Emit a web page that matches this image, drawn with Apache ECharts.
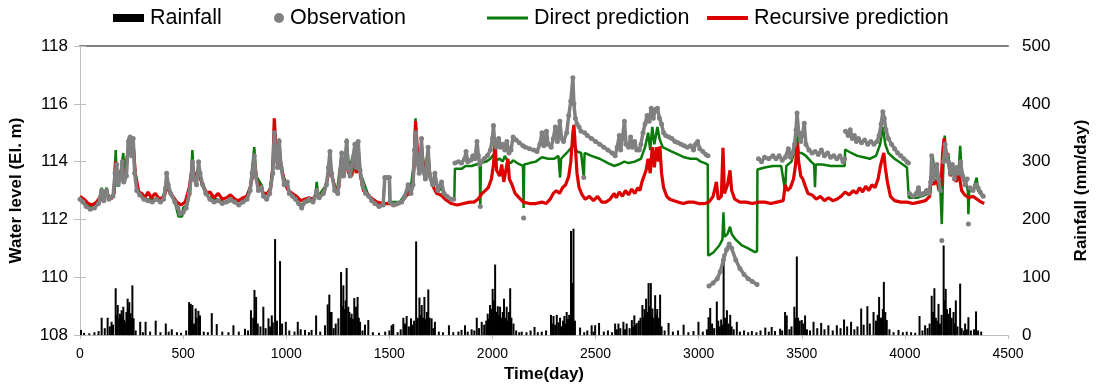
<!DOCTYPE html>
<html>
<head>
<meta charset="utf-8">
<script src="https://cdn.jsdelivr.net/npm/echarts/dist/echarts.min.js"></script>
<style>
html,body{margin:0;padding:0;background:#fff;}
#chart{width:1098px;height:388px;}
</style>
</head>
<body>
<div id="chart"></div>
<script>
// ---------------- DATA ----------------
const xTicks = [0, 500, 1000, 1500, 2000, 2500, 3000, 3500, 4000, 4500];
const levelTicks = [108, 110, 112, 114, 116, 118];
const rainTicks = [0, 100, 200, 300, 400, 500];

// Rainfall (mm/day): [day, mm]
const rainfall = [
[5,9],[20,4],[45,3],[70,5],[90,7],[105,30],[120,12],[134,30],[145,15],[153,23],[160,18],[173,81],[178,35],[183,52],[190,28],[194,37],[202,43],[206,30],[210,49],[214,26],[218,23],[225,40],[231,63],[235,45],[239,57],[245,38],[250,30],[254,86],[260,29],[270,8],[292,23],[305,5],[318,23],[340,6],[367,25],[390,5],[416,20],[430,6],[445,10],[470,5],[490,4],[515,8],[529,57],[533,30],[537,54],[541,25],[545,52],[553,20],[561,46],[566,30],[574,42],[578,25],[582,34],[600,6],[620,5],[639,38],[663,19],[690,6],[720,5],[744,17],[770,6],[800,11],[815,8],[829,43],[840,30],[846,78],[850,40],[854,66],[862,20],[875,15],[889,49],[900,12],[914,29],[922,15],[930,34],[935,22],[946,166],[955,25],[970,128],[980,20],[998,23],[1015,8],[1040,6],[1056,23],[1070,10],[1091,9],[1110,5],[1123,9],[1145,34],[1165,6],[1188,17],[1201,53],[1209,70],[1214,40],[1220,40],[1230,12],[1240,20],[1253,29],[1266,109],[1272,50],[1277,86],[1283,45],[1288,60],[1293,116],[1301,49],[1306,40],[1311,30],[1317,37],[1323,28],[1330,64],[1338,49],[1346,66],[1352,30],[1358,23],[1370,8],[1382,18],[1398,26],[1420,5],[1450,4],[1480,6],[1500,8],[1511,17],[1519,19],[1540,5],[1555,10],[1568,30],[1576,20],[1584,33],[1595,15],[1605,29],[1612,18],[1620,25],[1630,162],[1638,30],[1646,65],[1651,35],[1657,52],[1663,30],[1670,66],[1676,28],[1682,40],[1689,79],[1695,30],[1705,29],[1713,12],[1721,23],[1740,6],[1760,5],[1789,17],[1810,5],[1835,6],[1850,9],[1867,17],[1880,6],[1899,10],[1912,8],[1924,30],[1935,12],[1948,23],[1960,18],[1970,25],[1977,37],[1983,28],[1988,52],[1995,45],[2001,80],[2007,60],[2013,122],[2020,40],[2026,50],[2032,35],[2037,49],[2043,30],[2050,40],[2056,63],[2062,30],[2069,49],[2075,25],[2080,40],[2086,81],[2092,30],[2102,20],[2115,8],[2130,5],[2142,6],[2165,5],[2185,8],[2204,14],[2220,5],[2239,6],[2260,8],[2284,35],[2290,20],[2296,33],[2304,18],[2312,35],[2320,22],[2328,30],[2335,15],[2342,25],[2349,33],[2355,20],[2360,40],[2366,28],[2372,35],[2381,180],[2387,90],[2393,184],[2400,25],[2425,13],[2445,5],[2460,8],[2481,17],[2490,6],[2498,17],[2517,21],[2540,6],[2560,8],[2580,5],[2595,20],[2603,10],[2611,20],[2620,12],[2635,23],[2643,10],[2651,20],[2665,12],[2676,26],[2682,15],[2688,34],[2695,18],[2700,21],[2710,25],[2718,30],[2727,52],[2732,30],[2737,45],[2741,35],[2745,63],[2750,40],[2757,90],[2762,50],[2768,90],[2772,35],[2776,46],[2782,30],[2789,69],[2794,35],[2799,45],[2806,30],[2813,70],[2820,15],[2835,8],[2854,21],[2875,6],[2900,8],[2927,18],[2950,5],[2975,7],[2999,23],[3020,6],[3040,10],[3048,31],[3056,47],[3065,20],[3075,12],[3088,58],[3095,25],[3102,15],[3109,27],[3115,18],[3121,140],[3128,30],[3137,43],[3145,20],[3153,35],[3160,15],[3170,10],[3185,23],[3200,6],[3220,8],[3240,5],[3258,7],[3280,5],[3300,8],[3323,13],[3340,6],[3354,14],[3370,7],[3395,11],[3405,8],[3419,40],[3427,34],[3440,10],[3450,15],[3464,49],[3470,30],[3476,136],[3482,30],[3490,25],[3500,26],[3508,20],[3516,34],[3525,10],[3540,8],[3557,23],[3575,12],[3594,21],[3610,10],[3629,17],[3650,8],[3670,17],[3688,12],[3705,27],[3720,15],[3739,23],[3755,10],[3770,15],[3788,46],[3800,18],[3818,50],[3830,20],[3848,40],[3860,25],[3868,35],[3875,66],[3882,30],[3888,30],[3893,45],[3898,92],[3905,40],[3912,26],[3925,10],[3945,5],[3969,9],[3990,5],[4009,6],[4030,5],[4050,4],[4071,33],[4085,8],[4098,17],[4110,12],[4120,20],[4130,68],[4137,40],[4143,81],[4150,30],[4157,25],[4163,54],[4170,20],[4178,35],[4188,155],[4193,60],[4198,80],[4204,45],[4211,37],[4219,47],[4227,30],[4236,40],[4242,20],[4247,60],[4255,15],[4268,89],[4275,12],[4285,8],[4292,20],[4300,10],[4308,31],[4320,8],[4335,10],[4345,41],[4355,8],[4370,6]
];

// Observed water level (El. m): [day, m]  ('-' = gap)
const observation = [
[0,112.7],[15,112.6],[30,112.45],[50,112.35],[70,112.4],[90,112.55],[105,113.0],[115,112.65],[129,113.0],[140,112.7],[160,112.8],[170,113.6],[178,113.9],[185,113.2],[195,113.4],[205,114.0],[212,113.3],[225,113.5],[235,114.7],[243,114.85],[250,114.2],[258,114.8],[265,113.6],[275,113.0],[290,112.85],[310,112.7],[330,112.65],[350,112.6],[370,112.7],[390,112.6],[405,112.7],[415,113.1],[420,113.6],[428,113.2],[440,112.9],[460,112.6],[475,112.4],[485,112.2],[500,112.25],[515,112.4],[530,112.9],[540,113.5],[545,114.0],[552,113.4],[565,113.2],[575,114.0],[582,113.6],[595,113.2],[610,112.9],[630,112.7],[650,112.6],[670,112.65],[690,112.55],[710,112.6],[730,112.7],[750,112.6],[770,112.5],[790,112.6],[810,112.7],[825,113.0],[835,113.6],[845,114.2],[852,113.5],[865,113.0],[880,113.1],[890,112.8],[905,112.7],[920,112.9],[935,113.6],[942,115.0],[950,114.3],[958,113.8],[966,114.7],[975,113.8],[990,113.2],[1005,113.3],[1015,112.9],[1030,112.8],[1045,112.7],[1060,112.55],[1075,112.4],[1090,112.6],[1110,112.7],[1130,112.6],[1148,113.0],[1160,112.75],[1180,112.9],[1195,113.2],[1205,113.8],[1212,114.35],[1220,113.6],[1235,113.0],[1250,112.9],[1262,113.6],[1269,114.3],[1278,113.5],[1287,114.0],[1293,114.7],[1300,113.8],[1310,113.5],[1320,113.9],[1333,114.6],[1340,113.8],[1349,114.7],[1358,113.7],[1370,113.2],[1385,112.9],[1400,112.8],[1415,112.65],[1430,112.55],[1450,112.45],[1470,112.5],[1478,113.45],[1490,113.45],[1500,113.45],[1503,112.6],[1520,112.5],[1540,112.55],[1560,112.6],[1575,112.8],[1591,113.2],[1605,112.9],[1615,113.2],[1622,114.4],[1628,115.0],[1635,114.0],[1645,113.6],[1656,114.8],[1663,113.7],[1675,113.4],[1688,114.5],[1695,113.5],[1710,113.2],[1721,113.6],[1735,113.0],[1753,113.3],[1765,112.9],[1780,112.8],[1800,112.7],[1812,112.7],
[1815,'-'],
[1818,113.95],[1835,114.0],[1850,113.95],[1865,114.1],[1872,114.35],[1880,114.0],[1895,114.05],[1905,114.2],[1915,114.1],[1925,114.7],[1932,114.2],[1938,113.9],
[1940,'-'],[1941,112.45],[1942,'-'],
[1945,114.0],[1960,114.1],[1975,114.2],[1990,114.4],[2000,114.8],[2005,115.25],[2010,114.7],[2020,114.5],[2030,114.8],[2040,114.5],[2050,114.6],[2060,114.4],[2070,114.7],[2080,114.3],[2090,114.4],[2100,114.85],[2115,114.75],[2130,114.65],[2148,114.55],
[2150,'-'],[2151,112.05],[2152,'-'],
[2160,114.5],[2180,114.45],[2200,114.4],[2216,114.35],[2230,114.6],[2240,115.0],[2250,114.55],[2262,115.05],[2270,114.6],[2285,114.5],[2295,114.8],[2305,115.2],[2315,114.7],[2327,115.4],[2335,114.8],[2345,114.7],[2360,115.0],[2370,115.6],[2380,116.1],[2390,116.9],[2395,116.0],[2402,115.5],[2410,115.3],[2420,115.2],[2430,115.05],
[2441,'-'],[2443,113.45],[2445,'-'],
[2447,115.0],[2460,114.9],[2480,114.8],[2500,114.7],[2520,114.6],[2540,114.5],[2560,114.4],[2580,114.3],[2595,114.2],[2605,114.5],[2615,114.9],[2622,114.4],[2632,114.9],[2640,115.4],[2648,114.6],[2660,114.5],[2670,114.85],[2680,114.5],[2690,114.7],[2700,114.4],[2712,114.4],[2720,114.6],[2730,115.0],[2740,115.3],[2750,115.6],[2760,115.4],[2770,115.85],[2780,115.5],[2790,115.8],[2800,115.85],[2810,115.5],[2820,115.3],[2830,115.0],[2840,114.9],[2855,114.85],[2870,114.8],[2885,114.7],[2900,114.65],[2915,114.6],[2930,114.55],[2945,114.5],[2960,114.55],[2975,114.4],[2985,114.6],[2995,114.7],[3005,114.45],[3020,114.35],[3035,114.25],[3045,114.2],
[3046,'-'],
[3050,109.7],[3070,109.8],[3090,109.95],[3105,110.2],[3120,110.6],[3135,110.95],[3148,111.15],[3160,111.0],[3180,110.6],[3200,110.3],[3220,110.1],[3240,109.95],[3260,109.85],[3283,109.75],
[3285,'-'],
[3290,114.1],[3305,114.0],[3320,114.15],[3340,114.1],[3360,114.2],[3375,114.1],[3390,114.2],[3405,114.05],[3420,114.15],[3435,114.45],[3445,114.15],[3455,114.3],[3465,114.6],[3472,115.1],[3477,115.68],[3485,115.0],[3495,114.7],[3505,115.0],[3512,115.33],[3520,114.6],[3535,114.4],[3550,114.3],[3565,114.35],[3580,114.25],[3595,114.4],[3610,114.2],[3625,114.3],[3640,114.15],[3655,114.2],[3670,114.1],[3685,114.2],[3700,114.0],[3708,114.1],
[3709,'-'],
[3712,115.05],[3725,114.9],[3735,115.1],[3745,114.8],[3755,114.9],[3765,114.7],[3775,114.8],[3790,114.65],[3805,114.75],[3820,114.6],[3835,114.7],[3850,114.6],[3865,114.7],[3875,114.9],[3885,115.3],[3893,115.73],[3900,115.5],[3908,115.1],[3920,114.8],[3935,114.6],[3950,114.45],[3965,114.3],[3980,114.2],[3995,114.1],[4010,114.0],[4017,113.95],
[4018,'-'],
[4022,112.9],[4040,112.8],[4055,112.9],[4066,113.1],[4075,112.85],[4090,112.9],[4105,113.0],[4115,112.9],[4125,113.3],[4130,114.2],[4137,113.4],[4145,113.6],[4155,113.9],[4163,113.4],[4172,113.0],
[4176,'-'],[4179,111.27],[4182,'-'],
[4187,114.0],[4195,114.6],[4203,114.2],[4211,114.0],[4220,113.6],[4230,113.9],[4240,113.4],[4250,113.8],[4260,113.6],[4270,114.0],[4280,113.5],[4292,113.2],[4302,113.4],
[4305,'-'],[4308,111.84],[4311,'-'],
[4315,113.1],[4330,113.0],[4345,113.2],[4355,113.1],[4365,112.95],[4380,112.8]
];

// Direct prediction (El. m): [day, m]
const directPrediction = [
[0,112.7],[30,112.5],[60,112.4],[90,112.6],[105,113.1],[115,112.7],[129,113.1],[140,112.7],[165,112.9],[173,114.4],[180,113.3],[195,113.5],[210,114.3],[218,113.3],[235,114.8],[245,114.85],[252,114.2],[258,114.85],[268,113.5],[285,112.9],[320,112.7],[360,112.7],[400,112.7],[420,113.3],[430,113.0],[460,112.6],[478,112.1],[495,112.1],[500,112.4],[520,112.5],[535,113.0],[545,114.4],[552,113.4],[575,113.8],[590,113.2],[620,112.8],[660,112.7],[700,112.6],[750,112.65],[800,112.7],[825,113.1],[845,114.5],[855,113.5],[880,113.2],[890,112.8],[920,113.0],[935,113.8],[942,115.3],[950,114.2],[966,114.8],[975,113.8],[1000,113.2],[1030,112.8],[1070,112.5],[1100,112.6],[1140,112.7],[1148,113.3],[1155,112.8],[1195,113.2],[1212,114.0],[1222,113.5],[1245,112.9],[1269,114.3],[1280,113.5],[1293,114.8],[1305,113.7],[1333,114.5],[1342,113.8],[1349,114.6],[1360,113.6],[1385,113.1],[1395,112.9],[1420,112.65],[1470,112.5],[1476,112.5],[1478,113.45],[1502,113.45],[1504,112.6],[1550,112.6],[1590,113.0],[1600,112.9],[1620,114.0],[1627,115.5],[1635,114.0],[1650,113.7],[1656,114.7],[1670,113.6],[1688,114.4],[1700,113.4],[1725,113.3],[1745,113.0],[1753,113.35],[1760,112.9],[1790,112.75],[1815,112.7],
[1818,113.75],[1850,113.75],[1870,113.85],[1900,113.85],[1920,113.9],[1938,113.95],[1941,112.45],[1944,113.95],[1970,114.0],[1990,114.1],[2005,114.25],[2020,114.05],[2035,114.1],[2050,114.0],[2060,114.2],[2075,114.0],[2090,113.95],[2100,114.05],[2120,113.95],[2148,113.85],[2151,112.4],[2154,113.9],[2180,113.95],[2210,114.0],[2240,114.15],[2270,114.1],[2300,114.1],[2320,114.2],[2328,113.45],[2333,114.1],[2360,114.3],[2385,114.5],[2395,114.6],[2410,114.35],[2430,114.3],[2443,113.45],[2447,114.3],[2480,114.2],[2520,114.1],[2560,113.95],[2590,113.85],[2610,113.9],[2640,114.0],[2660,113.95],[2690,114.0],[2720,114.1],[2740,114.5],[2755,115.0],[2765,114.4],[2775,115.2],[2785,114.6],[2800,115.2],[2810,114.8],[2825,114.5],[2840,114.45],[2870,114.35],[2900,114.25],[2930,114.15],[2960,114.1],[2990,114.1],[3010,114.0],[3030,113.95],[3044,113.9],
[3046,110.75],[3070,110.85],[3100,111.1],[3115,111.3],[3120,112.25],[3125,111.4],[3140,111.5],[3152,111.75],[3160,111.5],[3180,111.3],[3210,111.1],[3240,111.0],[3273,110.87],[3283,110.9],
[3285,113.73],[3320,113.8],[3360,113.85],[3400,113.85],[3419,113.0],[3425,113.85],[3450,114.0],[3470,114.5],[3477,115.05],[3485,114.3],[3500,114.3],[3520,114.2],[3545,114.0],[3560,113.9],[3564,113.12],[3568,113.9],[3600,113.9],[3640,113.85],[3680,113.85],[3708,113.85],
[3710,114.42],[3740,114.3],[3770,114.2],[3800,114.15],[3830,114.1],[3860,114.2],[3880,114.6],[3893,115.2],[3905,114.6],[3920,114.3],[3950,114.1],[3980,113.95],[4010,113.8],[4017,113.75],
[4019,112.75],[4060,112.75],[4100,112.85],[4125,113.1],[4135,114.2],[4145,113.5],[4160,113.5],[4172,113.0],[4179,111.84],[4185,113.5],[4193,114.9],[4200,114.3],[4215,113.8],[4240,113.5],[4260,113.6],[4268,114.55],[4275,113.7],[4295,113.3],[4305,113.0],[4308,112.18],[4312,113.0],[4330,113.0],[4348,113.45],[4355,113.0],[4380,112.75]
];

// Recursive prediction (El. m): [day, m]
const recursivePrediction = [
[0,112.8],[20,112.7],[40,112.55],[60,112.5],[80,112.6],[100,112.8],[110,112.65],[130,112.9],[150,112.7],[165,112.9],[172,114.0],[180,113.4],[195,113.6],[205,113.8],[215,113.3],[230,114.2],[240,114.5],[250,114.3],[258,114.6],[268,113.6],[285,112.95],[300,112.9],[315,112.75],[330,112.95],[345,112.75],[365,112.9],[385,112.7],[410,112.8],[420,113.2],[432,113.0],[450,112.8],[470,112.6],[490,112.5],[510,112.6],[530,113.1],[545,113.9],[555,113.4],[568,113.6],[580,113.5],[595,113.2],[615,112.9],[630,112.95],[650,112.75],[670,112.9],[690,112.7],[710,112.75],[730,112.85],[750,112.7],[770,112.65],[790,112.75],[810,112.8],[825,113.1],[840,113.6],[848,113.9],[858,113.3],[875,113.1],[890,112.9],[910,112.9],[925,113.1],[935,113.8],[942,115.5],[950,114.5],[958,113.9],[966,114.3],[975,113.9],[990,113.3],[1010,113.0],[1030,112.9],[1050,112.8],[1070,112.65],[1090,112.7],[1110,112.75],[1130,112.7],[1148,112.9],[1165,112.8],[1185,112.95],[1200,113.4],[1212,113.9],[1222,113.5],[1240,113.0],[1255,113.1],[1265,113.9],[1272,114.0],[1282,113.6],[1293,114.3],[1302,113.6],[1317,113.5],[1330,114.0],[1340,113.6],[1349,114.2],[1360,113.5],[1375,113.0],[1390,112.9],[1410,112.75],[1440,112.6],[1470,112.55],[1500,112.55],[1530,112.5],[1560,112.6],[1580,112.8],[1595,112.9],[1610,113.1],[1620,113.8],[1627,115.4],[1637,114.3],[1648,113.7],[1656,114.4],[1668,113.7],[1680,113.6],[1688,114.0],[1700,113.4],[1715,113.1],[1730,112.9],[1750,112.85],[1770,112.7],[1800,112.55],[1830,112.5],[1860,112.55],[1890,112.6],[1910,112.6],[1930,112.7],[1950,112.9],[1965,113.0],[1980,113.1],[1995,113.4],[2005,113.9],[2013,114.65],[2020,113.7],[2035,113.5],[2045,113.9],[2055,113.3],[2065,113.7],[2075,114.1],[2082,113.4],[2095,113.2],[2110,112.9],[2130,112.75],[2150,112.6],[2180,112.55],[2210,112.55],[2240,112.6],[2260,112.55],[2280,112.7],[2295,112.9],[2310,113.0],[2325,112.9],[2340,113.1],[2355,113.2],[2370,113.5],[2380,114.0],[2390,115.0],[2395,115.27],[2402,114.5],[2410,113.6],[2420,113.1],[2435,112.85],[2450,112.7],[2470,112.8],[2490,112.65],[2510,112.8],[2530,112.6],[2550,112.6],[2570,112.7],[2590,112.9],[2600,112.75],[2615,112.95],[2630,112.8],[2645,113.0],[2660,112.85],[2675,113.05],[2690,112.9],[2705,113.1],[2715,113.0],[2725,113.3],[2735,113.5],[2745,113.7],[2755,114.1],[2765,113.6],[2775,114.5],[2785,113.8],[2795,114.5],[2805,114.0],[2812,114.53],[2820,113.6],[2830,113.1],[2845,112.8],[2860,112.7],[2880,112.65],[2900,112.6],[2925,112.55],[2950,112.6],[2975,112.6],[3000,112.55],[3030,112.55],[3050,112.6],[3070,112.8],[3086,113.3],[3095,112.7],[3110,112.8],[3118,114.48],[3125,112.9],[3140,113.2],[3152,113.7],[3160,113.0],[3175,112.7],[3200,112.6],[3230,112.6],[3260,112.55],[3290,112.6],[3320,112.6],[3350,112.55],[3380,112.6],[3410,112.65],[3420,113.2],[3430,113.0],[3445,113.1],[3460,113.4],[3470,113.9],[3477,114.65],[3485,114.0],[3495,113.5],[3505,113.4],[3516,113.17],[3530,112.9],[3550,112.85],[3570,112.7],[3590,112.8],[3610,112.65],[3630,112.75],[3650,112.65],[3670,112.7],[3690,112.8],[3710,112.95],[3730,112.85],[3750,113.0],[3765,112.9],[3780,113.1],[3795,112.95],[3810,113.15],[3825,113.0],[3840,113.2],[3855,113.1],[3870,113.4],[3880,113.8],[3890,114.1],[3898,114.3],[3905,113.8],[3915,113.3],[3930,112.8],[3950,112.65],[3980,112.6],[4010,112.6],[4040,112.55],[4070,112.6],[4100,112.65],[4120,112.8],[4130,113.6],[4140,113.2],[4155,113.4],[4165,113.0],[4175,113.2],[4183,114.3],[4190,114.8],[4198,114.0],[4208,114.3],[4220,113.5],[4235,113.8],[4248,113.3],[4262,113.6],[4275,113.0],[4290,112.85],[4310,112.75],[4330,112.8],[4350,112.7],[4370,112.6],[4385,112.55]
];

// ---------------- CHART ----------------
const FONT = "'Liberation Sans', Arial, sans-serif";
const chart = echarts.init(document.getElementById('chart'), null, {renderer: 'canvas'});

const legendBase = {
  top: 7, orient: 'horizontal', padding: 0,
  textStyle: {fontFamily: FONT, fontSize: 21.5, color: '#000', padding: [0, 0, 0, 1]},
  itemGap: 6
};

const option = {
  animation: false,
  backgroundColor: '#fff',
  textStyle: {fontFamily: FONT},
  legend: [
    Object.assign({}, legendBase, {left: 113, itemWidth: 31, itemHeight: 8, data: [{name: 'Rainfall', icon: 'rect'}]}),
    Object.assign({}, legendBase, {left: 274, itemWidth: 10, itemHeight: 10, data: [{name: 'Observation', icon: 'circle'}]}),
    Object.assign({}, legendBase, {left: 487, itemWidth: 41, itemHeight: 3, data: [{name: 'Direct prediction', icon: 'rect'}]}),
    Object.assign({}, legendBase, {left: 707, itemWidth: 41, itemHeight: 4, data: [{name: 'Recursive prediction', icon: 'rect'}]})
  ],
  grid: {left: 80, right: 90, top: 46, bottom: 51, containLabel: false},
  xAxis: [
    {
      type: 'value', min: xTicks[0], max: xTicks[xTicks.length - 1], interval: xTicks[1] - xTicks[0],
      name: 'Time(day)', nameLocation: 'middle', nameGap: 30,
      nameTextStyle: {fontFamily: FONT, fontSize: 17, fontWeight: 'bold', color: '#000'},
      axisLine: {show: true, lineStyle: {color: '#bfbfbf', width: 1}},
      axisTick: {show: true, length: 4, lineStyle: {color: '#bfbfbf'}},
      axisLabel: {fontFamily: FONT, fontSize: 14, color: '#000', margin: 12, formatter: v => String(v)},
      splitLine: {show: false}
    },
    {
      type: 'value', position: 'top', min: xTicks[0], max: xTicks[xTicks.length - 1],
      axisLine: {show: true, lineStyle: {color: '#808080', width: 2}},
      axisTick: {show: false}, axisLabel: {show: false}, splitLine: {show: false}
    }
  ],
  yAxis: [
    {
      type: 'value', position: 'left', min: levelTicks[0], max: levelTicks[levelTicks.length - 1],
      interval: levelTicks[1] - levelTicks[0],
      name: 'Water level (El. m)', nameLocation: 'middle', nameGap: 55, nameRotate: 90,
      nameTextStyle: {fontFamily: FONT, fontSize: 17, fontWeight: 'bold', color: '#000'},
      axisLine: {show: true, lineStyle: {color: '#bfbfbf', width: 1}},
      axisTick: {show: true, length: 6, lineStyle: {color: '#bfbfbf'}},
      axisLabel: {fontFamily: FONT, fontSize: 17, color: '#000', margin: 12},
      splitLine: {show: false}
    },
    {
      type: 'value', position: 'right', min: rainTicks[0], max: rainTicks[rainTicks.length - 1],
      interval: rainTicks[1] - rainTicks[0],
      name: 'Rainfall (mm/day)', nameLocation: 'middle', nameGap: 65, nameRotate: 90,
      nameTextStyle: {fontFamily: FONT, fontSize: 17, fontWeight: 'bold', color: '#000'},
      axisLine: {show: true, lineStyle: {color: '#bfbfbf', width: 1}},
      axisTick: {show: true, length: 6, lineStyle: {color: '#bfbfbf'}},
      axisLabel: {fontFamily: FONT, fontSize: 17, color: '#000', margin: 14},
      splitLine: {show: false}
    }
  ],
  series: [
    {
      name: 'Rainfall', type: 'bar', xAxisIndex: 0, yAxisIndex: 1,
      data: rainfall, barWidth: 2, barGap: '-100%',
      itemStyle: {color: '#000000'}, z: 1
    },
    {
      name: 'Direct prediction', type: 'line', xAxisIndex: 0, yAxisIndex: 0,
      data: directPrediction, showSymbol: false, symbol: 'none',
      lineStyle: {color: '#0a7a0a', width: 2.5}, itemStyle: {color: '#0a7a0a'}, z: 2
    },
    {
      name: 'Recursive prediction', type: 'line', xAxisIndex: 0, yAxisIndex: 0,
      data: recursivePrediction, showSymbol: false, symbol: 'none',
      lineStyle: {color: '#dd0000', width: 3.2}, itemStyle: {color: '#dd0000'}, z: 3
    },
    {
      name: 'Observation', type: 'line', xAxisIndex: 0, yAxisIndex: 0,
      data: observation, connectNulls: false,
      symbol: 'circle', symbolSize: 5, showSymbol: true, showAllSymbol: true,
      lineStyle: {color: '#808080', width: 3.5}, itemStyle: {color: '#808080'}, z: 4
    }
  ]
};
chart.setOption(option);
</script>
</body>
</html>
